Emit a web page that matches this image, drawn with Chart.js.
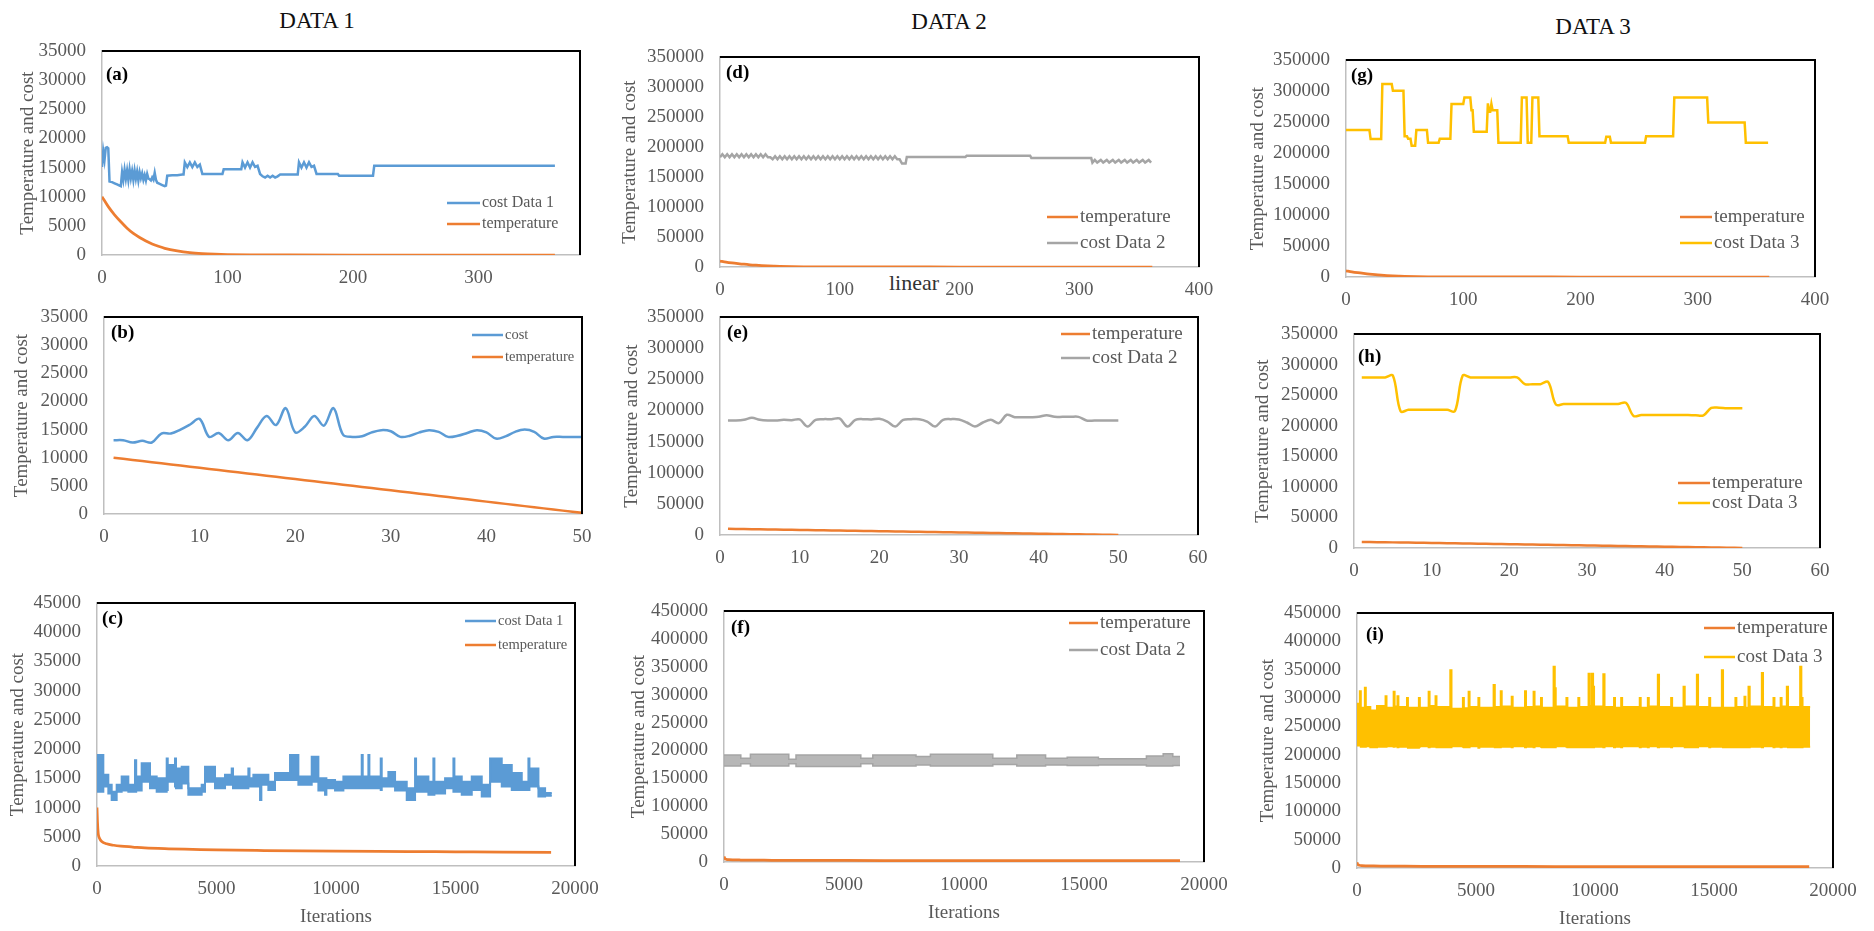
<!DOCTYPE html>
<html>
<head>
<meta charset="utf-8">
<title>Temperature and cost</title>
<script src="https://cdn.jsdelivr.net/npm/chart.js@4.4.1/dist/chart.umd.min.js"></script>
<style>
  html, body { margin: 0; padding: 0; background: #ffffff; }
  body { position: relative; width: 1874px; height: 931px; overflow: hidden;
         font-family: "Liberation Serif", "Times New Roman", serif; }
  canvas { position: absolute; }
  .label { position: absolute; transform: translate(-50%, -50%); white-space: nowrap; }
  .head { font-size: 23px; color: #111111; }
  .note { font-size: 22px; color: #333333; }
</style>
</head>
<body>
<div class="label head" style="left:317px; top:21px;">DATA 1</div>
<div class="label head" style="left:949px; top:22px;">DATA 2</div>
<div class="label head" style="left:1593px; top:27px;">DATA 3</div>
<div class="label note" style="left:914px; top:283px;">linear</div>
<script>
// ---------- iteration axes ----------
const iter50 = [1,2,3,4,5,6,7,8,9,10,11,12,13,14,15,16,17,18,19,20,21,22,23,24,25,
  26,27,28,29,30,31,32,33,34,35,36,37,38,39,40,41,42,43,44,45,46,47,48,49,50];

// ---------- temperature schedules [iteration, temperature] ----------
const tempFast = [[0,10000],[5,8300],[10,6900],[15,5700],[20,4600],[25,3700],[30,3000],[35,2400],
  [40,1900],[45,1500],[50,1150],[60,700],[70,400],[80,230],[90,130],[100,70],[120,25],[150,5],[200,0],[361,0]];
const tempLinear = [10000,9800,9600,9400,9200,9000,8800,8600,8400,8200,8000,7800,7600,7400,7200,
  7000,6800,6600,6400,6200,6000,5800,5600,5400,5200,5000,4800,4600,4400,4200,4000,3800,3600,3400,
  3200,3000,2800,2600,2400,2200,2000,1800,1600,1400,1200,1000,800,600,400,200];
const tempLong = [[0,10000],[20,7500],[50,5600],[100,4800],[200,4200],[400,3800],[700,3550],[1000,3400],
  [1500,3250],[2000,3100],[3000,2950],[4000,2850],[5000,2750],[7000,2650],[10000,2550],[13000,2480],
  [15000,2430],[17000,2380],[19000,2340]];

// ---------- DATA 1 ----------
const costA = [[0,15100],[1,17800],[2,16300],[3,18400],[4,18500],[5,18300],[6,12600],[8,12500],[10,12300],
  [12,12100],[14,11900],[15,11800],[16,14200],[17,12900],[18,14600],[19,13100],[20,14500],[21,12900],
  [22,14700],[23,13200],[24,14400],[25,12900],[26,14500],[27,13100],[28,14300],[29,12800],[30,14200],
  [31,13200],[32,14000],[33,12900],[34,13700],[35,12800],[36,13900],[37,13100],[38,13000],[39,12800],
  [40,13300],[41,12900],[42,14100],[43,12900],[44,12400],[46,12200],[48,12000],[50,11800],[51,11900],
  [52,13600],[56,13700],[60,13700],[64,13800],[65,13800],[66,15900],[68,15100],[70,15900],[72,15100],
  [74,15900],[76,15100],[78,15500],[80,13900],[96,13900],[97,14700],[111,14700],[112,15900],[114,15000],
  [116,15900],[118,15000],[120,15900],[122,15100],[124,15300],[126,13900],[128,13500],[130,13300],
  [132,13600],[134,13300],[136,13600],[138,13300],[140,13500],[142,13800],[156,13800],[157,15900],
  [159,15000],[161,15900],[163,15000],[165,15900],[167,15100],[169,15300],[171,13900],[188,13900],
  [189,13600],[216,13600],[217,15300],[361,15300]];
const costB = [13100,13100,12700,13000,12700,14300,14300,15000,15900,16900,
  13700,14400,13100,14400,13100,15300,17400,15800,18800,14500,
  15500,17400,15700,18800,14100,13700,13800,14500,14900,14700,
  13700,13900,14500,14900,14600,13700,13900,14400,14900,14500,
  13400,13800,14600,15000,14600,13400,13700,13700,13700,13700];
// [iteration, upper edge, lower edge] of the cost trace
const costC = [[0,19000,12700],[265,15600,13600],[474,13900,12400],[614,12700,11300],[823,13900,12700],
  [1032,15300,12900],[1311,13900,12700],[1590,18100,12700],[1640,15300,12900],[1869,17600,14400],
  [2218,15300,13300],[2497,15000,12700],[2916,18400,13000],[2960,17300,14400],[3264,18400,13600],
  [3306,16700,13300],[3543,17000,14100],[3822,13300,12200],[4380,13900,12700],[4520,17000,14400],
  [4938,15000,13300],[5357,15600,13900],[5636,16700,13900],[5690,15300,13300],[6333,16700,13900],
  [6380,15000,13600],[6543,15600,13600],[6822,15600,11300],[6877,15600,13900],[7170,14400,13000],
  [7449,15900,14700],[8077,19000,14700],[8426,15300,13900],[8984,18700,14400],[9263,15000,12900],
  [9542,15000,12200],[9598,14700,13300],[9960,14400,12900],[10309,15300,13300],[11076,19000,13300],
  [11118,15300,13300],[11355,19000,13300],[11397,15300,13300],[11871,18400,13000],[11913,15000,13600],
  [12192,16100,13600],[12471,14400,12900],[12960,13300,11300],[13308,18400,12700],[13350,15300,12700],
  [13866,14400,12200],[14075,18400,12200],[14117,14400,12400],[14564,15000,13300],[14913,18400,12700],
  [14954,15300,12700],[15261,14400,12200],[15680,15300,13000],[16098,13900,11900],[16447,18400,14400],
  [16935,17300,13600],[17354,15900,13000],[17772,14400,13000],[18051,18400,13000],[18093,16700,13600],
  [18470,13300,11900],[18749,12500,12000],[19028,12500,12000]];

// ---------- DATA 2 ----------
const costD = [[0,183000],[2,188000],[4,183000],[6,188000],[8,183000],[10,188000],[12,183000],[14,188000],
  [16,183000],[18,188000],[20,183000],[22,188000],[24,183000],[26,188000],[28,183000],[30,188000],
  [32,183000],[34,188000],[36,183000],[38,188000],[40,183000],[42,183000],
  [44,179500],[46,184500],[48,179500],[50,184500],[52,179500],[54,184500],[56,179500],[58,184500],
  [60,179500],[62,184500],[64,179500],[66,184500],[68,179500],[70,184500],[72,179500],[74,184500],
  [76,179500],[78,184500],[80,179500],[82,184500],[84,179500],[86,184500],[88,179500],[90,184500],
  [92,179500],[94,184500],[96,179500],[98,184500],[100,179500],[102,184500],[104,179500],[106,184500],
  [108,179500],[110,184500],[112,179500],[114,184500],[116,179500],[118,184500],[120,179500],[122,184500],
  [124,179500],[126,184500],[128,179500],[130,184500],[132,179500],[134,184500],[136,179500],[138,184500],
  [140,179500],[142,184500],[144,179500],[146,184500],[148,179500],[150,179500],
  [152,172500],[155,172500],[156,183500],[205,183500],[206,185500],[259,185500],[260,181500],[310,181500],
  [311,174000],[313,178500],[315,174000],[318,178500],[320,174000],[323,178500],[325,174000],[328,178500],
  [330,174000],[333,178500],[335,174000],[338,178500],[340,174000],[343,178500],[345,174000],[348,178500],
  [350,174000],[353,178500],[355,174000],[358,178500],[360,174000]];
const costE = [183800,183800,184900,188100,184900,183800,183800,184900,184400,185500,
  174200,184900,186000,186000,187100,174200,184900,186000,185500,186500,
  182200,174200,184900,186000,186000,182200,174200,184900,186000,185500,
  180600,174200,180600,184900,179600,193000,189200,189200,189200,189700,
  192400,189700,189700,189700,189700,183800,183800,183800,183800,183800];
const costF = [[0,192000,172000],[700,186000,176000],[1100,193000,172000],[2700,184000,176000],
  [3000,192000,171000],[5700,186000,176000],[6200,192000,172000],[8000,189000,174000],[8600,193000,172000],
  [11200,186000,175000],[12200,192000,172000],[13400,186000,174000],[14300,188000,173000],
  [15600,185000,174000],[17600,190000,172000],[18300,194000,172000],[18700,189000,173000],[19000,189000,173000]];

// ---------- DATA 3 ----------
const costG = [[0,236900],[20,236900],[21,222400],[30,222400],[31,311300],[39,311300],[40,300500],[49,300500],
  [50,227200],[52,227200],[53,223000],[55,223000],[56,211600],[59,211600],[60,236900],[69,236900],
  [70,216500],[79,216500],[80,223000],[89,223000],[90,279000],[100,279000],[101,289700],[106,289700],
  [107,269000],[108,269000],[109,234200],[120,234200],[121,280000],[122,266600],[123,266600],[124,279000],
  [125,269000],[129,269000],[130,216500],[149,216500],[150,289700],[154,289700],[155,216500],[158,216500],
  [159,289700],[164,289700],[165,227200],[189,227200],[190,216500],[221,216500],[222,226200],[225,226200],
  [226,216500],[255,216500],[256,227200],[279,227200],[280,289700],[308,289700],[309,249300],[340,249300],
  [341,216500],[360,216500]];
const costH = [279000,279000,279000,279000,282000,223500,226000,226000,226000,226000,
  226000,226000,224000,282000,279000,279000,279000,279000,279000,279000,
  279000,268000,268000,268000,271500,234500,235500,235500,235500,235500,
  235500,235500,235500,235500,237500,216000,217500,217500,217500,217500,
  217500,217500,217500,217000,217000,229000,229500,228500,228500,228500];
const costI = [[0,290000,216000],[120,312000,216000],[160,283000,214000],[330,318000,214000],
  [370,284000,215000],[560,278000,213000],[840,286000,214000],[1200,303000,214000],[1240,283000,215000],
  [1540,311000,214000],[1580,285000,215000],[1700,303000,213000],[1740,284000,214000],[2100,300000,215000],
  [2140,283000,212000],[2600,300000,214000],[2640,283000,215000],[3010,311000,213000],[3050,286000,214000],
  [3300,303000,215000],[3340,284000,213000],[3920,349000,213000],[3970,281000,215000],[4450,300000,214000],
  [4490,282000,213000],[4690,311000,213000],[4730,284000,215000],[5100,300000,212000],[5140,283000,214000],
  [5740,323000,214000],[5790,284000,213000],[6040,312000,215000],[6080,285000,214000],[6500,302000,213000],
  [6540,283000,215000],[7060,312000,213000],[7100,284000,214000],[7420,311000,213000],[7460,285000,215000],
  [7730,300000,214000],[7770,283000,213000],[8260,355000,214000],[8310,317000,213000],[8350,285000,215000],
  [8800,300000,214000],[8840,283000,213000],[9300,300000,215000],[9340,284000,213000],[9730,343000,214000],
  [9780,286000,213000],[9870,343000,215000],[9920,320000,213000],[9960,285000,214000],[10350,342000,213000],
  [10400,284000,215000],[10800,300000,213000],[10840,283000,214000],[11100,300000,213000],
  [11140,284000,215000],[11880,300000,213000],[11920,283000,214000],[12220,300000,213000],
  [12260,285000,215000],[12640,341000,213000],[12690,284000,214000],[13200,300000,213000],
  [13240,283000,215000],[13720,320000,215000],[13770,285000,213000],[14280,341000,213000],
  [14330,284000,215000],[14800,300000,213000],[14840,283000,214000],[15330,349000,214000],
  [15380,283000,213000],[15900,300000,215000],[15940,284000,213000],[16280,302000,214000],
  [16320,283000,213000],[16450,320000,213000],[16500,285000,214000],[17010,344000,213000],
  [17060,284000,215000],[17500,300000,213000],[17540,283000,214000],[17800,300000,213000],
  [17840,285000,214000],[18060,320000,214000],[18110,284000,213000],[18620,355000,215000],
  [18670,300000,213000],[18720,284000,214000],[19040,284000,214000]];

// ---------- styling ----------
const BLUE = '#5B9BD5', ORANGE = '#ED7D31', GRAY = '#A5A5A5', GOLD = '#FFC000';
const AXIS_GRAY = '#595959';

Chart.defaults.font.family = '"Liberation Serif", "Times New Roman", serif';
Chart.defaults.font.size = 19;
Chart.defaults.color = AXIS_GRAY;

const xy = rows => rows.map(r => ({ x: r[0], y: r[1] }));
const byIter = (iters, vals) => vals.map((v, i) => ({ x: iters[i], y: v }));
const edge = (rows, k) => rows.map(r => ({ x: r[0], y: r[k] }));

function series(label, data, color, extra) {
  return Object.assign({
    label, data, borderColor: color, backgroundColor: color,
    borderWidth: 2.5, pointRadius: 0, pointHoverRadius: 0, fill: false, tension: 0
  }, extra || {});
}
const smoothTemp = { cubicInterpolationMode: 'monotone', borderWidth: 2.75 };
const curvy = { tension: 0.35 };
const upper = { stepped: 'before', fill: '+1', borderWidth: 2 };
const lower = { stepped: 'before', borderWidth: 2 };
const upperSoft = { stepped: 'before', fill: '+1', borderWidth: 1.5, backgroundColor: 'rgba(165,165,165,0.8)' };
const lowerSoft = { stepped: 'before', borderWidth: 1.5 };

// ---------- panel layout ----------
const panels = [
  { tag: '(a)', box: [102, 51, 580, 255], yOff: 74, xMax: 381, xStep: 100, yMax: 35000, yStep: 5000,
    tagAt: [4, 24], legend: { dx: 345, dy: 152, len: 33, gap: 21, size: 16 }, order: [0, 1],
    sets: [series('cost Data 1', xy(costA), BLUE), series('temperature', xy(tempFast), ORANGE, smoothTemp)] },
  { tag: '(b)', box: [104, 317, 582, 514], yOff: 82, xMax: 50, xStep: 10, yMax: 35000, yStep: 5000,
    tagAt: [7, 16], legend: { dx: 368, dy: 18, len: 31, gap: 22, size: 14.5 }, order: [0, 1],
    sets: [series('cost', byIter(iter50, costB), BLUE, curvy), series('temperature', byIter(iter50, tempLinear), ORANGE)] },
  { tag: '(c)', box: [97, 603, 575, 866], yOff: 79, xMax: 20000, xStep: 5000, yMax: 45000, yStep: 5000, xTitle: true,
    tagAt: [5, 16], legend: { dx: 368, dy: 18, len: 31, gap: 24, size: 14.5 }, order: [0, 2],
    sets: [series('cost Data 1', edge(costC, 1), BLUE, upper), series('', edge(costC, 2), BLUE, lower),
           series('temperature', xy(tempLong), ORANGE, smoothTemp)] },
  { tag: '(d)', box: [720, 57, 1199, 267], yOff: 90, xMax: 400, xStep: 100, yMax: 350000, yStep: 50000,
    tagAt: [6, 16], legend: { dx: 327, dy: 160, len: 31, gap: 26, size: 19 }, order: [0, 1],
    sets: [series('temperature', xy(tempFast), ORANGE, smoothTemp), series('cost Data 2', xy(costD), GRAY)] },
  { tag: '(e)', box: [720, 317, 1198, 535], yOff: 88, xMax: 60, xStep: 10, yMax: 350000, yStep: 50000,
    tagAt: [7, 16], legend: { dx: 341, dy: 17, len: 29, gap: 24, size: 19 }, order: [0, 1],
    sets: [series('temperature', byIter(iter50, tempLinear), ORANGE), series('cost Data 2', byIter(iter50, costE), GRAY, curvy)] },
  { tag: '(f)', box: [724, 611, 1204, 862], yOff: 85, xMax: 20000, xStep: 5000, yMax: 450000, yStep: 50000, xTitle: true,
    tagAt: [7, 17], legend: { dx: 345, dy: 12, len: 29, gap: 27, size: 19 }, order: [0, 1],
    sets: [series('temperature', xy(tempLong), ORANGE, smoothTemp), series('cost Data 2', edge(costF, 1), GRAY, upperSoft),
           series('', edge(costF, 2), GRAY, lowerSoft)] },
  { tag: '(g)', box: [1346, 60, 1815, 277], yOff: 88, xMax: 400, xStep: 100, yMax: 350000, yStep: 50000,
    tagAt: [5, 16], legend: { dx: 334, dy: 157, len: 32, gap: 26, size: 19 }, order: [0, 1],
    sets: [series('temperature', xy(tempFast), ORANGE, smoothTemp), series('cost Data 3', xy(costG), GOLD)] },
  { tag: '(h)', box: [1354, 334, 1820, 548], yOff: 91, xMax: 60, xStep: 10, yMax: 350000, yStep: 50000,
    tagAt: [4, 23], legend: { dx: 324, dy: 149, len: 32, gap: 20, size: 19 }, order: [0, 1],
    sets: [series('temperature', byIter(iter50, tempLinear), ORANGE), series('cost Data 3', byIter(iter50, costH), GOLD, curvy)] },
  { tag: '(i)', box: [1357, 613, 1833, 868], yOff: 89, xMax: 20000, xStep: 5000, yMax: 450000, yStep: 50000, xTitle: true,
    tagAt: [9, 22], legend: { dx: 347, dy: 15, len: 31, gap: 29, size: 19 }, order: [0, 1],
    sets: [series('temperature', xy(tempLong), ORANGE, smoothTemp), series('cost Data 3', edge(costI, 1), GOLD, upper),
           series('', edge(costI, 2), GOLD, lower)] }
];

// Frame (black top/right edges), panel tag and in-plot legend
function decor(p) {
  return {
    id: 'decor',
    afterDatasetsDraw(chart) {
      const { ctx, chartArea: a } = chart;
      ctx.save();
      ctx.strokeStyle = '#000000';
      ctx.lineWidth = 2;
      ctx.beginPath();
      ctx.moveTo(a.left, a.top);
      ctx.lineTo(a.right, a.top);
      ctx.lineTo(a.right, a.bottom);
      ctx.stroke();

      ctx.fillStyle = '#000000';
      ctx.font = 'bold 19px "Liberation Serif", serif';
      ctx.textAlign = 'left';
      ctx.textBaseline = 'middle';
      ctx.fillText(p.tag, a.left + p.tagAt[0], a.top + p.tagAt[1]);

      const L = p.legend;
      ctx.font = L.size + 'px "Liberation Serif", serif';
      p.order.forEach((di, k) => {
        const ds = chart.data.datasets[di];
        const x0 = a.left + L.dx;
        const y = a.top + L.dy + k * L.gap;
        ctx.strokeStyle = ds.borderColor;
        ctx.lineWidth = 2.5;
        ctx.beginPath();
        ctx.moveTo(x0, y);
        ctx.lineTo(x0 + L.len, y);
        ctx.stroke();
        ctx.fillStyle = AXIS_GRAY;
        ctx.fillText(ds.label, x0 + L.len + 2, y);
      });
      ctx.restore();
    }
  };
}

panels.forEach(p => {
  const [l, t, r, b] = p.box;
  const YW = Math.round(p.yOff + 11.4);
  const XH = p.xTitle ? 62 : 36;
  const PT = 30, PR = 42, PB = 2;
  const w = Math.round(r - l + YW + PR);
  const h = Math.round(b - t + PT + XH + PB);
  const cv = document.createElement('canvas');
  cv.width = w; cv.height = h;
  cv.style.width = w + 'px'; cv.style.height = h + 'px';
  cv.style.left = (l - YW) + 'px';
  cv.style.top = (t - PT) + 'px';
  document.body.appendChild(cv);

  new Chart(cv, {
    type: 'line',
    data: { datasets: p.sets },
    options: {
      responsive: false,
      animation: false,
      devicePixelRatio: 1,
      layout: { padding: { left: 0, top: PT, right: PR, bottom: PB } },
      plugins: { legend: { display: false }, tooltip: { enabled: false } },
      scales: {
        x: {
          type: 'linear', min: 0, max: p.xMax,
          grid: { display: false, drawTicks: false },
          border: { display: true, color: '#BFBFBF', width: 1.5 },
          ticks: { stepSize: p.xStep, includeBounds: false, autoSkip: false, maxRotation: 0, padding: 12,
                   callback: v => String(v) },
          title: { display: !!p.xTitle, text: 'Iterations', padding: 0 },
          afterFit(s) { s.height = XH; }
        },
        y: {
          type: 'linear', min: 0, max: p.yMax,
          grid: { display: false, drawTicks: false },
          border: { display: true, color: '#BFBFBF', width: 1.5 },
          ticks: { stepSize: p.yStep, autoSkip: false, padding: 16, callback: v => String(v) },
          title: { display: true, text: 'Temperature and cost', padding: 0 },
          afterFit(s) { s.width = YW; }
        }
      }
    },
    plugins: [decor(p)]
  });
});
</script>
</body>
</html>
